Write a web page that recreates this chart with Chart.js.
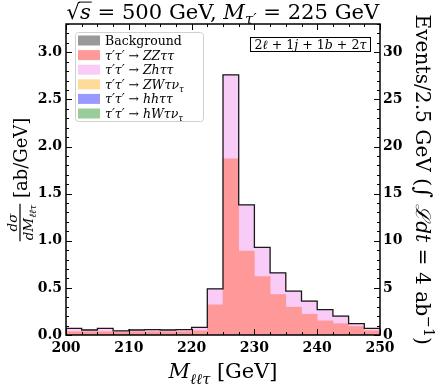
<!DOCTYPE html>
<html><head><meta charset="utf-8">
<script src="https://cdn.jsdelivr.net/npm/chart.js@4.4.0/dist/chart.umd.min.js"></script>
<style>html,body{margin:0;padding:0;background:#fff;}canvas{display:block;}</style>
</head><body>
<canvas id="c" width="436" height="387"></canvas>
<script>
// ---- data ----
const binEdges = [200,202.5,205,207.5,210,212.5,215,217.5,220,222.5,225,227.5,230,232.5,235,237.5,240,242.5,245,247.5];
const binWidth = 2.5;
const xMin = 200, xMax = 250;
const background = [0,0,0,0,0,0,0,0,0,0,0,0,0,0,0,0,0,0,0,0];
const zzTauTau   = [0.035,0.035,0.035,0.030,0.035,0.035,0.035,0.035,0.045,0.32,1.87,0.89,0.62,0.43,0.295,0.22,0.15,0.12,0.09,0.045];
const zhTauTau   = [0.035,0.018,0.035,0.013,0.018,0.022,0.018,0.022,0.035,0.17,0.89,0.49,0.31,0.23,0.17,0.14,0.12,0.08,0.03,0.025];
const zwTauNu    = [0,0,0,0,0,0,0,0,0,0,0,0,0,0,0,0,0,0,0,0];
const hhTauTau   = [0,0,0,0,0,0,0,0,0,0,0,0,0,0,0,0,0,0,0,0];
const hwTauNu    = [0,0,0,0,0,0,0,0,0,0,0,0,0,0,0,0,0,0,0,0];
const yLeftMax = 3.3, yRightMax = 33;

const SERIF = '"DejaVu Serif"';
const series = [
  {name:'Background', data:background, color:'#999999', runs:[{t:'Background'}]},
  {name:'ZZtautau', data:zzTauTau, color:'#ff9999', runs:[{t:'τ′τ′',i:1},{t:' → '},{t:'ZZττ',i:1}]},
  {name:'Zhtautau', data:zhTauTau, color:'#f8ccf6', runs:[{t:'τ′τ′',i:1},{t:' → '},{t:'Zhττ',i:1}]},
  {name:'ZWtaunu', data:zwTauNu, color:'#ffdb99', runs:[{t:'τ′τ′',i:1},{t:' → '},{t:'ZWτν',i:1},{t:'τ',i:1,s:0.7,dy:0.25}]},
  {name:'hhtautau', data:hhTauTau, color:'#9999ff', runs:[{t:'τ′τ′',i:1},{t:' → '},{t:'hhττ',i:1}]},
  {name:'hWtaunu', data:hwTauNu, color:'#99cc99', runs:[{t:'τ′τ′',i:1},{t:' → '},{t:'hWτν',i:1},{t:'τ',i:1,s:0.7,dy:0.25}]}
];
const totals = binEdges.map((e,i)=>series.reduce((s,d)=>s+d.data[i],0));
// points at left bin edges (value applies forward), closing point at the upper edge
const outline = binEdges.map((e,i)=>({x:e,y:totals[i]})).concat([{x:xMax,y:totals[totals.length-1]}]);

function fontStr(r,size){return (r.i?'italic ':'')+(r.b?'bold ':'')+(size*(r.s||1)).toFixed(2)+'px '+SERIF;}
function runsWidth(ctx,runs,size){let w=0;for(const r of runs){ctx.font=fontStr(r,size);w+=ctx.measureText(r.t).width;}return w;}
function drawRuns(ctx,runs,x,y,size){const pos=[];for(const r of runs){ctx.font=fontStr(r,size);const w=ctx.measureText(r.t).width;ctx.fillText(r.t,x,y+(r.dy||0)*size);pos.push([x,x+w]);x+=w;}return pos;}

const decor = {
  id:'decor',
  afterDraw(chart){
    const ctx=chart.ctx,a=chart.chartArea,xs=chart.scales.xl,ys=chart.scales.y,yr=chart.scales.yr;
    ctx.save();
    ctx.strokeStyle='#000';ctx.fillStyle='#000';ctx.lineWidth=1;
    const ln=(x1,y1,x2,y2)=>{ctx.beginPath();ctx.moveTo(x1,y1);ctx.lineTo(x2,y2);ctx.stroke();};
    for(let k=0;k<=20;k++){const px=Math.round(xs.getPixelForValue(xMin+2.5*k))+0.5;const L=(k%4===0)?6:3;ln(px,a.bottom,px,a.bottom-L);ln(px,a.top,px,a.top+L);}
    for(let k=0;k<=33;k++){const py=Math.round(ys.getPixelForValue(k*0.1))+0.5;const L=(k%5===0)?6:3;ln(a.left,py,a.left+L,py);}
    for(let k=0;k<=33;k++){const py=Math.round(yr.getPixelForValue(k))+0.5;const L=(k%5===0)?6:3;ln(a.right,py,a.right-L,py);}
    ctx.lineWidth=1.5;ctx.strokeRect(a.left,a.top,a.right-a.left,a.bottom-a.top);

    ctx.textAlign='left';ctx.textBaseline='alphabetic';
    // title
    const tRuns=[{t:'√'},{t:'s',i:1},{t:' = 500 GeV, '},{t:'M',i:1},{t:'τ′',i:1,s:0.7,dy:0.25},{t:' = 225 GeV'}];
    let tS=17;const tw=runsWidth(ctx,tRuns,tS);tS=tS*313/tw;
    const tx0=(a.left+a.right)/2-313/2;
    const tp=drawRuns(ctx,tRuns,tx0,19,tS);
    ctx.lineWidth=1;ln(tp[0][1]-1,19-tS*0.80,tp[1][1]+1,19-tS*0.80);

    // x label
    const xRuns=[{t:'M',i:1},{t:'ℓℓτ',i:1,s:0.7,dy:0.28},{t:' [GeV]'}];
    let xS=17;const xw0=runsWidth(ctx,xRuns,xS);xS=xS*109/xw0;
    drawRuns(ctx,xRuns,(a.left+a.right)/2-109/2,378,xS);

    // left y label
    ctx.save();ctx.translate(20,(a.top+a.bottom)/2);ctx.rotate(-Math.PI/2);
    const S=18,fs=13.5;
    const numR=[{t:'dσ',i:1}],denR=[{t:'dM',i:1},{t:'ℓℓτ',i:1,s:0.7,dy:0.28}],brR=[{t:' [ab/GeV]'}];
    const wn=runsWidth(ctx,numR,fs),wd=runsWidth(ctx,denR,fs),wf=Math.max(wn,wd)+2,wb=runsWidth(ctx,brR,S);
    const x0=-(wf+wb)/2;
    ctx.fillRect(x0,-0.6,wf,1.2);
    drawRuns(ctx,numR,x0+(wf-wn)/2,-3.5,fs);
    drawRuns(ctx,denR,x0+(wf-wd)/2,12.5,fs);
    drawRuns(ctx,brR,x0+wf,6.5,S);
    ctx.restore();

    // right y label
    const rRuns=[{t:'Events/2.5 GeV ('},{t:'∫',s:1.1},{t:' '},{t:'ℒ',i:1},{t:'dt',i:1},{t:' = 4 ab'},{t:'−1',s:0.7,dy:-0.4},{t:')'}];
    let rS=17;const rw=runsWidth(ctx,rRuns,rS);rS=rS*330/rw;
    ctx.save();ctx.translate(423-0.35*rS,(a.top+a.bottom)/2);ctx.rotate(Math.PI/2);
    drawRuns(ctx,rRuns,-330/2,0,rS);
    ctx.restore();

    // channel box
    const bRuns=[{t:'2'},{t:'ℓ',i:1},{t:' + 1'},{t:'j',i:1},{t:' + 1'},{t:'b',i:1},{t:' + 2'},{t:'τ',i:1}];
    let bS=13;const bw=runsWidth(ctx,bRuns,bS);bS=bS*112/bw;
    ctx.fillStyle='#fff';ctx.fillRect(250.5,37.5,120,14);
    ctx.lineWidth=1;ctx.strokeStyle='#000';ctx.strokeRect(250.5,37.5,120,14);
    ctx.fillStyle='#000';drawRuns(ctx,bRuns,310.5-112/2,48.5,bS);

    // legend
    const lx=75.5,ly=32.5,lw=128,lh=89;
    ctx.beginPath();ctx.roundRect(lx,ly,lw,lh,3);ctx.fillStyle='rgba(255,255,255,0.85)';ctx.fill();
    ctx.strokeStyle='#d0d0d0';ctx.lineWidth=1;ctx.stroke();
    series.forEach((s,i)=>{
      const cy=40.5+14.6*i;
      ctx.fillStyle=s.color;ctx.fillRect(78,cy-5,22,10);
      ctx.fillStyle='#000';drawRuns(ctx,s.runs,105,cy+4.5,12.5);
    });
    ctx.restore();
  }
};

const tickFont={family:SERIF,size:14,weight:'bold'};
const datasets=series.map(s=>({type:'bar',label:s.name,
  data:binEdges.map((e,i)=>({x:e+binWidth/2,y:s.data[i]})),
  backgroundColor:s.color,borderWidth:0,barPercentage:1,categoryPercentage:1,
  stack:'sig',xAxisID:'xl',yAxisID:'y',order:1}));
datasets.push({type:'line',label:'total',data:outline,xAxisID:'xl',yAxisID:'y',stepped:'before',
  borderColor:'#1a1a1a',borderWidth:1.3,pointRadius:0,fill:false,stack:'outline',order:0});

new Chart(document.getElementById('c'),{
  type:'bar',
  data:{datasets},
  options:{
    responsive:false,animation:false,
    layout:{padding:{top:24,left:0,right:0,bottom:0}},
    plugins:{legend:{display:false},tooltip:{enabled:false},title:{display:false}},
    scales:{
      xl:{type:'linear',position:'bottom',min:xMin,max:xMax,offset:false,stacked:true,
        ticks:{stepSize:10,font:tickFont,color:'#000',padding:5,maxRotation:0,includeBounds:false},
        grid:{display:false,drawTicks:false,offset:false},border:{display:false},afterFit(s){s.height=52;}},
      y:{type:'linear',position:'left',stacked:true,min:0,max:yLeftMax,
        ticks:{stepSize:0.5,font:tickFont,color:'#000',padding:4,includeBounds:false,callback:v=>Number(v).toFixed(1)},
        grid:{display:false,drawTicks:false},border:{display:false},afterFit(s){s.width=66;}},
      yr:{type:'linear',position:'right',min:0,max:yRightMax,
        ticks:{stepSize:5,font:tickFont,color:'#000',padding:3,includeBounds:false},
        grid:{display:false,drawTicks:false},border:{display:false},afterFit(s){s.width=56;}}
    }
  },
  plugins:[decor]
});
</script>
</body></html>
